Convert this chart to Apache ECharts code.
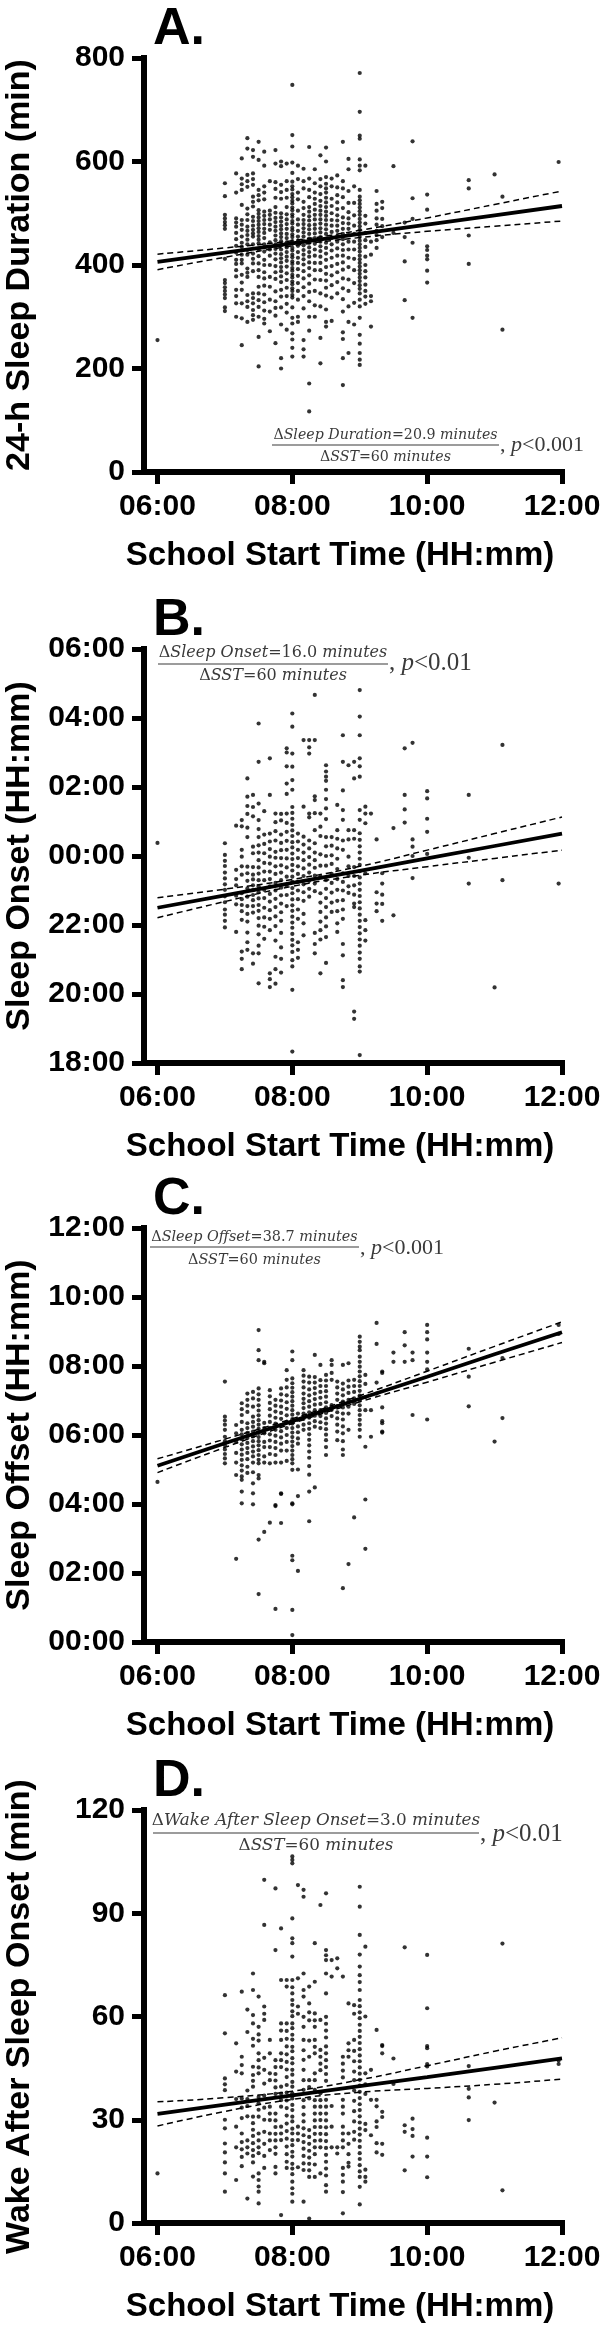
<!DOCTYPE html>
<html>
<head>
<meta charset="utf-8">
<script src="https://cdn.jsdelivr.net/npm/echarts@6/dist/echarts.min.js"></script>
<style>
  html, body { margin: 0; padding: 0; background: #fff; }
  #chart { width: 604px; height: 2331px; }
</style>
</head>
<body>
<div id="chart"></div>
<script>
// school start times that the dots sit on (minutes after midnight)
const sstCols = [360, 420, 430, 435, 440, 445, 450, 455, 460, 465, 470, 475, 480, 485, 490, 495, 500, 505, 510,
  515, 520, 525, 530, 535, 540, 545, 550, 555, 560, 570, 580, 587, 600, 637, 660, 667, 717];

// A. 24-h sleep duration (min), one list per start time column
const durationA = [
  [255],
  [558, 533, 497, 490, 483, 477, 470, 412, 371, 365, 357, 350, 343, 336, 318, 311],
  [577, 540, 490, 482, 474, 462, 450, 437, 424, 410, 402, 390, 378, 352, 340, 326, 300],
  [606, 567, 556, 545, 516, 487, 478, 468, 455, 443, 435, 420, 410, 403, 381, 366, 352, 326, 297, 245],
  [645, 625, 574, 562, 551, 509, 498, 487, 474, 466, 458, 449, 440, 429, 420, 393, 385, 377, 342, 330, 319, 290],
  [622, 609, 577, 566, 555, 532, 522, 513, 493, 485, 476, 468, 461, 455, 440, 422, 412, 403, 388, 345, 336, 326, 313, 303, 294],
  [638, 603, 545, 535, 525, 506, 499, 492, 485, 478, 471, 464, 456, 449, 442, 430, 417, 403, 390, 377, 358, 345, 332, 319, 300, 261, 204],
  [619, 592, 552, 540, 527, 503, 495, 487, 479, 470, 462, 452, 440, 426, 410, 400, 386, 374, 360, 343, 328, 312, 296, 287],
  [562, 505, 497, 488, 478, 468, 444, 430, 418, 400, 377, 358, 333, 310, 272],
  [622, 596, 560, 547, 530, 512, 501, 491, 483, 474, 466, 457, 448, 440, 431, 422, 411, 398, 386, 373, 349, 330, 317, 302, 249],
  [600, 591, 555, 541, 528, 500, 492, 484, 476, 469, 461, 454, 446, 438, 430, 421, 413, 405, 396, 388, 378, 367, 352, 339, 318, 285, 220, 200],
  [596, 562, 545, 530, 512, 498, 488, 479, 470, 460, 452, 444, 434, 425, 416, 408, 397, 384, 371, 356, 340, 325, 308, 275],
  [748, 651, 629, 598, 578, 561, 552, 546, 537, 531, 524, 519, 511, 506, 498, 493, 485, 480, 472, 467, 459, 454, 446, 441, 433, 428, 420, 415, 407, 402, 394, 389, 381, 376, 368, 363, 355, 350, 342, 337, 318, 298, 287, 268, 256, 240, 223],
  [592, 566, 540, 527, 505, 488, 478, 466, 455, 447, 437, 425, 414, 404, 392, 379, 365, 350, 333, 300, 290],
  [586, 562, 548, 522, 510, 497, 487, 479, 471, 463, 455, 446, 438, 429, 420, 411, 401, 388, 374, 357, 340, 316, 255, 237, 223],
  [628, 567, 545, 531, 512, 503, 494, 486, 477, 469, 460, 451, 443, 434, 425, 416, 405, 394, 380, 364, 348, 330, 300, 273, 171, 117],
  [585, 558, 540, 528, 518, 507, 497, 488, 478, 470, 461, 452, 441, 430, 418, 404, 390, 372, 350, 322, 300],
  [612, 566, 552, 537, 524, 514, 505, 497, 488, 480, 471, 463, 454, 445, 436, 427, 416, 404, 390, 371, 345, 320, 259, 210],
  [627, 600, 570, 557, 548, 540, 530, 521, 512, 503, 495, 487, 478, 469, 460, 451, 443, 433, 422, 410, 396, 383, 370, 356, 341, 314, 290, 281],
  [567, 552, 528, 514, 500, 487, 476, 464, 452, 440, 428, 414, 398, 380, 361, 337, 292],
  [573, 550, 535, 521, 508, 496, 486, 476, 466, 456, 445, 432, 418, 402, 386, 367, 345],
  [638, 562, 548, 531, 510, 492, 481, 470, 460, 450, 440, 429, 418, 405, 391, 374, 355, 334, 310, 270, 257, 220, 168],
  [605, 585, 543, 520, 502, 490, 480, 470, 458, 445, 430, 414, 396, 372, 350, 320, 290, 230],
  [552, 520, 496, 476, 460, 445, 430, 412, 390, 365, 327, 285],
  [771, 696, 650, 644, 604, 592, 583, 545, 532, 525, 518, 511, 504, 497, 489, 482, 475, 468, 461, 454, 447, 440, 433, 426, 418, 411, 404, 397, 390, 383, 376, 369, 361, 354, 345, 333, 320, 298, 265, 248, 230, 217, 207],
  [592, 495, 480, 462, 448, 435, 416, 400, 388, 376, 362, 350, 339, 325],
  [445, 420, 340, 330, 281],
  [543, 518, 505, 490, 478, 466, 458, 448, 433],
  [522, 510, 489, 475, 454],
  [591, 462],
  [482, 454, 407, 332],
  [639, 529, 489, 443, 298],
  [536, 507, 436, 429, 418, 411, 389, 366],
  [564, 548, 457, 402],
  [575],
  [532, 275],
  [599]
];

// B. sleep onset, clock hours (values above 24 are after midnight)
const onsetB = [
  [24.38],
  [24.37, 24.03, 23.86, 23.71, 23.52, 23.35, 23.18, 23.02, 22.83, 22.66, 22.45, 22.30, 22.12, 21.93],
  [24.88, 23.60, 23.33, 23.15, 22.85, 22.60, 21.80],
  [25.04, 24.86, 24.18, 23.98, 23.70, 23.46, 22.92, 22.75, 22.58, 22.40, 22.15, 21.23, 21.02, 20.72],
  [26.25, 25.72, 25.45, 25.22, 24.82, 24.55, 23.69, 23.50, 23.28, 23.06, 22.82, 22.55, 22.32, 22.10, 21.78, 21.50, 21.28],
  [25.77, 25.42, 25.15, 24.27, 24.08, 23.68, 23.46, 23.32, 23.15, 23.01, 22.87, 22.72, 22.55, 22.36, 21.18, 20.88],
  [27.84, 26.73, 25.52, 25.04, 24.78, 24.55, 24.31, 24.10, 23.88, 23.67, 23.49, 23.30, 23.12, 22.95, 22.77, 22.58, 22.41, 22.20, 21.98, 21.73, 21.40, 21.18, 20.31],
  [25.30, 24.62, 24.35, 24.08, 23.80, 23.55, 23.30, 23.02, 22.78, 22.50, 22.22, 21.95, 21.60],
  [26.83, 25.77, 24.65, 24.42, 24.20, 23.98, 23.78, 23.55, 23.33, 23.12, 22.90, 22.68, 22.43, 22.18, 21.85, 20.60, 20.43, 20.20],
  [25.23, 24.98, 24.72, 24.45, 24.12, 23.95, 23.70, 23.48, 23.22, 23.00, 22.76, 22.52, 22.25, 21.97, 21.55, 21.08, 20.72, 20.30],
  [25.22, 25.03, 24.62, 24.38, 24.17, 23.94, 23.73, 23.52, 23.30, 23.08, 22.86, 22.62, 22.37, 22.12, 21.77, 21.35, 21.02, 20.62],
  [27.12, 27.00, 26.60, 26.10, 25.80, 25.23, 24.96, 24.70, 24.44, 24.18, 23.93, 23.67, 23.40, 23.13, 22.87, 22.55],
  [28.13, 27.75, 26.97, 26.59, 26.20, 25.92, 25.42, 25.25, 25.08, 24.90, 24.74, 24.58, 24.40, 24.25, 24.07, 23.91, 23.74, 23.58, 23.40, 23.25, 23.07, 22.92, 22.74, 22.57, 22.41, 22.24, 22.07, 21.92, 21.74, 21.57, 21.41, 21.22, 20.98, 20.80, 20.12, 18.33],
  [24.65, 24.42, 24.18, 23.94, 23.70, 23.48, 23.25, 23.00, 22.75, 22.45, 22.18, 21.50, 21.28, 21.05],
  [27.36, 25.43, 24.56, 24.33, 24.10, 23.88, 23.64, 23.42, 23.18, 22.95, 22.70, 22.32, 22.05, 21.70],
  [27.36, 27.15, 26.97, 25.23, 25.12, 24.45, 24.22, 23.97, 23.75, 23.52, 23.28, 23.05, 22.82],
  [28.67, 27.36, 25.73, 25.62, 25.24, 24.75, 24.37, 24.10, 23.88, 23.66, 23.43, 23.20, 22.98, 21.77, 21.45, 21.18],
  [25.23, 24.85, 24.58, 24.05, 23.72, 23.40, 22.92, 22.65, 22.38, 22.10, 21.85, 21.58, 20.60],
  [26.63, 26.45, 26.30, 26.18, 25.92, 25.65, 25.38, 25.07, 24.55, 24.28, 24.00, 23.72, 23.30, 23.05, 22.78, 22.52, 22.22, 21.96, 21.65, 20.90],
  [24.55, 24.30, 24.02, 23.77, 23.48, 23.22, 22.94, 22.65, 22.38],
  [25.48, 24.75, 24.50, 24.22, 23.92, 23.62, 23.33, 23.02, 22.70, 22.40, 22.05, 21.80],
  [27.50, 26.73, 25.90, 25.33, 25.05, 24.45, 24.18, 23.50, 23.25, 23.00, 22.72, 22.45, 22.18, 21.45, 21.12, 20.40, 20.20],
  [26.63, 24.75, 24.48, 23.98, 23.70, 23.42, 23.12, 22.93],
  [26.73, 26.25, 24.75, 24.50, 23.68, 23.42, 23.15, 22.88, 22.62, 22.52, 19.49, 19.28],
  [28.81, 28.04, 27.50, 26.83, 26.60, 26.30, 25.33, 25.05, 24.66, 24.47, 24.28, 24.10, 23.92, 23.74, 23.56, 23.38, 23.20, 23.02, 22.84, 22.66, 22.48, 22.30, 22.12, 21.94, 21.76, 21.58, 21.40, 21.20, 21.02, 20.80, 20.65, 18.23],
  [25.43, 25.23, 24.95, 23.50, 22.14, 21.85, 21.55],
  [25.23],
  [24.48, 22.95, 22.62, 22.40],
  [23.50, 23.20, 22.88, 22.61, 22.12],
  [24.81, 22.28],
  [27.12, 25.77, 25.35, 24.97],
  [27.28, 24.48, 24.27, 24.00, 23.36],
  [25.88, 25.67, 25.08, 24.70, 24.06],
  [25.77, 23.95, 23.20],
  [20.19],
  [27.22, 23.30],
  [23.20]
];

// C. sleep offset, clock hours
const offsetC = [
  [4.64],
  [7.55, 6.53, 6.42, 6.30, 6.15, 5.95, 5.82, 5.70, 5.58, 5.45, 5.32, 5.18],
  [6.29, 6.05, 5.80, 5.48, 5.20, 4.84, 2.41],
  [6.92, 6.75, 6.58, 6.38, 6.15, 6.02, 5.88, 5.73, 5.58, 5.43, 5.28, 5.12, 4.97, 4.80, 4.70, 4.36, 4.02],
  [7.20, 7.02, 6.85, 6.67, 6.34, 6.20, 6.06, 5.91, 5.77, 5.62, 5.48, 5.30, 5.08, 4.90],
  [7.25, 7.06, 6.82, 6.53, 6.38, 6.24, 6.10, 5.96, 5.82, 5.67, 5.52, 5.38, 5.20, 4.92, 4.60, 4.31, 3.99],
  [9.04, 8.46, 8.17, 7.35, 7.18, 7.02, 6.86, 6.71, 6.57, 6.43, 6.30, 6.18, 6.06, 5.94, 5.82, 5.70, 5.56, 5.42, 5.28, 5.18, 4.84, 4.74, 2.97, 1.39],
  [8.12, 8.08, 6.35, 6.20, 6.05, 5.80, 5.65, 5.38, 5.20, 3.19],
  [7.30, 7.12, 6.93, 6.75, 6.56, 6.38, 6.20, 6.02, 5.84, 5.65, 5.45, 5.18, 3.46],
  [7.02, 6.85, 6.68, 6.50, 6.33, 6.15, 5.98, 5.80, 5.62, 5.42, 5.20, 3.97, 3.94, 0.96],
  [7.35, 7.18, 7.00, 6.82, 6.64, 6.47, 6.29, 6.11, 5.93, 5.75, 5.55, 5.20, 4.31, 4.29, 3.45],
  [7.88, 7.60, 7.38, 7.15, 6.95, 6.76, 6.57, 6.38, 6.20, 6.00, 5.80, 5.55, 5.25],
  [8.42, 8.17, 7.64, 7.50, 7.37, 7.24, 7.11, 6.98, 6.85, 6.72, 6.59, 6.46, 6.33, 6.20, 6.07, 5.94, 5.81, 5.68, 5.55, 5.42, 5.30, 5.18, 4.99, 4.02, 3.99, 2.50, 2.37, 0.93, 0.20],
  [6.62, 6.44, 6.25, 6.08, 5.90, 5.75, 5.00, 4.23, 2.06],
  [7.88, 7.72, 7.55, 7.38, 7.20, 7.05, 6.92, 6.78, 6.62, 6.47, 6.30, 6.15],
  [7.69, 7.52, 7.32, 7.15, 6.98, 6.82, 6.66, 6.50, 6.34, 6.18, 6.02, 5.86, 5.70, 5.52, 5.34, 5.10, 4.85, 4.36, 3.50],
  [8.32, 7.68, 7.52, 7.36, 7.20, 7.04, 6.88, 6.72, 6.56, 6.40, 6.24, 4.48],
  [8.03, 7.59, 7.42, 7.25, 7.08, 6.90, 6.72, 6.55, 6.37, 6.20],
  [7.74, 7.58, 7.42, 7.27, 7.11, 6.95, 6.80, 6.64, 6.48, 6.33, 6.17, 6.01, 5.85, 5.65, 5.42],
  [8.17, 8.03, 7.80, 7.60, 6.87, 6.73, 6.55],
  [7.55, 7.38, 7.20, 7.02, 6.84, 6.66, 6.48, 6.30, 6.10, 5.85],
  [8.03, 7.49, 7.32, 7.15, 6.97, 6.80, 6.62, 6.45, 6.25, 6.05, 5.82, 5.58, 5.42, 1.56],
  [8.08, 7.58, 7.40, 7.22, 7.02, 6.82, 6.62, 6.15, 2.26],
  [7.60, 7.42, 7.25, 7.06, 6.90, 3.61],
  [8.85, 8.70, 8.56, 8.46, 8.27, 8.12, 7.98, 7.84, 7.70, 7.56, 7.42, 7.28, 7.14, 7.00, 6.86, 6.72, 6.58, 6.44, 6.30, 6.15, 5.95],
  [7.74, 7.48, 7.10, 6.72, 5.66, 4.13, 2.70],
  [6.72, 5.95],
  [9.25, 8.64, 7.52, 7.20],
  [7.84, 7.80, 6.80, 6.40, 6.34, 6.10, 6.07],
  [8.39, 8.12],
  [8.98, 8.60, 8.12],
  [8.39, 8.17, 6.58],
  [9.19, 8.98, 8.77, 8.39, 8.12, 7.90, 6.45],
  [8.50, 7.69, 6.83],
  [5.81],
  [8.23, 6.49],
  [9.19, 8.93]
];

// D. wake after sleep onset (min)
const wasoD = [
  [14.4],
  [66.2, 55.1, 42.0, 40.3, 38.6, 30.0, 27.5, 23.1, 20.5, 17.6, 14.4, 9.1],
  [52.2, 44.0, 36.0, 28.0, 22.0, 12.5],
  [67.2, 48.3, 45.9, 43.5, 36.2, 33.5, 30.5, 26.0, 23.5, 21.4, 19.2, 16.5],
  [62.0, 55.5, 38.5, 36.0, 34.0, 31.0, 24.0, 22.0, 20.2, 7.1],
  [72.5, 67.7, 60.4, 58.0, 53.5, 51.5, 45.4, 43.0, 41.3, 39.6, 30.9, 29.0, 27.1, 25.3, 23.2, 21.2, 19.5, 17.6, 13.5],
  [65.8, 57.0, 54.8, 53.0, 49.3, 47.3, 45.2, 43.5, 36.6, 34.8, 32.9, 30.9, 26.0, 24.0, 22.0, 20.3, 14.4, 12.5, 10.6, 9.1, 5.7],
  [99.7, 86.6, 62.9, 60.8, 59.0, 48.0, 44.5, 40.5, 37.0, 33.5, 30.0, 26.5, 23.0, 19.5, 16.0],
  [53.2, 49.3, 43.5, 41.5, 33.8, 31.8, 29.9, 26.0, 24.0, 21.2],
  [97.2, 79.3, 47.3, 45.3, 43.3, 41.4, 39.4, 37.5, 31.8, 29.8, 27.9, 25.9, 24.0, 22.0, 20.1, 16.3, 14.4],
  [85.6, 70.6, 58.0, 55.9, 53.2, 49.3, 47.3, 45.3, 39.6, 37.6, 35.7, 33.8, 28.0, 26.0, 24.1, 2.3],
  [70.6, 68.7, 58.0, 55.8, 53.5, 51.3, 49.0, 46.8, 44.6, 42.4, 40.1, 37.9, 35.6, 33.4, 31.2, 28.9, 26.7, 24.5, 22.2, 20.0, 17.8, 16.0],
  [106.5, 105.5, 104.5, 88.5, 82.7, 81.3, 77.4, 70.6, 68.5, 66.7, 64.8, 63.4, 61.5, 60.1, 58.0, 56.6, 54.7, 53.3, 51.2, 49.9, 47.9, 46.4, 44.5, 43.1, 41.0, 39.6, 37.7, 36.2, 34.3, 32.8, 30.9, 29.5, 27.4, 26.0, 24.1, 22.6, 20.7, 19.3, 17.2, 15.8, 14.2, 12.0, 10.1, 8.5, 6.2],
  [98.2, 71.1, 62.9, 60.8, 28.0, 26.0, 24.1, 16.2],
  [96.8, 94.8, 72.5, 67.7, 65.8, 59.9, 57.0, 53.2, 50.2, 47.4, 44.5, 41.5, 38.7, 35.7, 33.7, 31.5, 29.5, 27.5, 25.5, 23.5, 21.6, 19.5, 17.3, 15.4, 6.2],
  [68.7, 63.8, 61.2, 58.9, 53.0, 48.3, 41.5, 39.5, 36.2, 27.0, 25.0, 23.0, 21.0, 19.0, 17.2, 15.3, 13.4, 1.3],
  [81.3, 70.1, 60.9, 58.9, 57.0, 53.2, 51.2, 49.3, 43.5, 41.5, 38.7, 35.7, 33.8, 31.8, 29.8, 27.9, 25.9, 23.9, 22.0, 20.0, 17.0, 13.4],
  [92.4, 59.0, 50.3, 48.3, 46.3, 44.4, 37.7, 35.7, 33.8, 31.8, 29.9, 27.9, 25.9, 24.0, 22.0, 14.4],
  [95.8, 79.3, 77.8, 76.4, 72.5, 66.7, 59.9, 57.9, 55.9, 53.9, 51.3, 49.3, 47.3, 45.3, 43.3, 41.3, 35.8, 33.8, 31.8, 29.8, 27.8, 25.8, 23.8, 21.8, 19.8, 17.8, 15.8, 13.8, 11.0, 9.1],
  [76.4, 71.6, 34.0, 28.0, 22.0],
  [76.9, 74.0, 22.0, 20.2],
  [71.6, 48.3, 46.3, 44.3, 42.3, 35.8, 33.8, 31.8, 28.0, 26.0, 24.0, 22.0, 16.0, 14.0, 12.0, 9.0, 2.8],
  [63.8, 52.2, 50.2, 48.3, 26.0, 23.0, 20.0, 17.5, 16.4],
  [63.3, 60.8, 53.2, 50.0, 47.0, 44.0, 41.5, 38.5, 35.5, 32.5, 29.5, 26.5, 24.2],
  [97.7, 91.9, 83.7, 78.0, 74.5, 72.0, 70.0, 67.7, 64.8, 63.0, 61.2, 59.5, 57.6, 55.8, 54.1, 52.3, 50.5, 48.7, 47.0, 45.2, 43.4, 41.6, 39.9, 38.1, 36.3, 34.5, 32.8, 31.0, 29.2, 27.4, 25.7, 23.9, 22.1, 20.3, 18.6, 16.8, 15.0, 13.4, 10.5, 5.4],
  [80.3, 60.0, 43.5, 40.3, 37.5, 28.8, 27.0, 15.5, 13.4, 12.0],
  [44.5, 35.8, 25.5],
  [56.1, 35.8, 33.9, 29.5, 27.9, 23.2, 20.5],
  [51.7, 51.4, 49.3, 32.3, 30.8, 23.0, 19.8],
  [47.8, 40.4],
  [80.1, 28.4, 26.5, 15.3],
  [30.3, 27.3, 25.3, 19.3],
  [77.9, 62.4, 51.4, 50.8, 46.2, 45.5, 24.8, 19.3, 13.3],
  [45.6, 39.0, 36.5, 29.9],
  [35.0],
  [81.2, 9.5],
  [47.2, 46.2]
];

// regression line and 95% band, read at each full hour
const fitX = [360, 420, 480, 540, 600, 660, 720];
const fitA = [406, 424, 442, 460, 478, 496, 514];
const upA = [421, 433, 447, 467, 491, 517, 543];
const loA = [391, 415, 437, 453, 465, 475, 485];
const fitB = [22.50, 22.86, 23.22, 23.57, 23.93, 24.29, 24.65];
const upB = [22.79, 23.04, 23.32, 23.70, 24.17, 24.65, 25.13];
const loB = [22.21, 22.68, 23.12, 23.44, 23.69, 23.93, 24.17];
const fitC = [5.11, 5.76, 6.40, 7.05, 7.69, 8.34, 8.98];
const upC = [5.31, 5.88, 6.47, 7.14, 7.85, 8.57, 9.28];
const loC = [4.91, 5.64, 6.33, 6.96, 7.53, 8.11, 8.68];
const fitD = [31.7, 34.4, 37.1, 39.8, 42.4, 45.1, 47.8];
const upD = [35.2, 36.4, 38.3, 41.6, 45.7, 49.9, 53.8];
const loD = [28.2, 32.4, 35.9, 38.0, 39.1, 40.3, 41.8];

const xTicks = [360, 480, 600, 720];

const pad = n => String(n).padStart(2, '0');
const clock = m => pad(Math.floor(m / 60)) + ':' + pad(m % 60);
const hourLabel = h => pad(((h % 24) + 24) % 24) + ':00';

function toPoints(cols) {
  const pts = [];
  cols.forEach((vals, i) => vals.forEach(v => pts.push([sstCols[i], v])));
  return pts;
}
const pair = ys => fitX.map((x, i) => [x, ys[i]]);

const SANS = '"Liberation Sans", Arial, sans-serif';
const MATH = '"DejaVu Serif", serif';
const INK = '#3a3a3a';

const panels = [
  { letter: 'A.', top: 58, height: 414, yName: '24-h Sleep Duration (min)',
    min: 0, max: 800, step: 200, fmt: v => String(v),
    dots: durationA, fit: fitA, up: upA, lo: loA,
    note: { what: 'Sleep Duration', val: '20.9', p: '0.001', size: 14.2, cx: 385.5, numY: 435, barY: 445, denY: 457,
            x1: 272, x2: 499, tailSize: 22, tailY: 445 } },
  { letter: 'B.', top: 649, height: 414, yName: 'Sleep Onset (HH:mm)',
    min: 18, max: 30, step: 2, fmt: hourLabel,
    dots: onsetB, fit: fitB, up: upB, lo: loB,
    note: { what: 'Sleep Onset', val: '16.0', p: '0.01', size: 16, cx: 273, numY: 653, barY: 664, denY: 676,
            x1: 158, x2: 388, tailSize: 25, tailY: 663 } },
  { letter: 'C.', top: 1228, height: 414, yName: 'Sleep Offset (HH:mm)',
    min: 0, max: 12, step: 2, fmt: hourLabel,
    dots: offsetC, fit: fitC, up: upC, lo: loC,
    note: { what: 'Sleep Offset', val: '38.7', p: '0.001', size: 14.4, cx: 254.5, numY: 1237, barY: 1247, denY: 1260,
            x1: 150, x2: 359, tailSize: 22, tailY: 1248 } },
  { letter: 'D.', top: 1810, height: 413, yName: 'Wake After Sleep Onset (min)',
    min: 0, max: 120, step: 30, fmt: v => String(v),
    dots: wasoD, fit: fitD, up: upD, lo: loD,
    note: { what: 'Wake After Sleep Onset', val: '3.0', p: '0.01', size: 16.8, cx: 316, numY: 1821, barY: 1833, denY: 1846,
            x1: 153, x2: 479, tailSize: 25, tailY: 1834 } }
];

const grid = [], xAxis = [], yAxis = [], series = [], graphic = [];

const mathRich = size => ({
  i: { fontFamily: MATH, fontStyle: 'italic', fontSize: size, fill: INK },
  u: { fontFamily: MATH, fontSize: size, fill: INK }
});

panels.forEach((p, k) => {
  grid.push({ left: 144, width: 418, top: p.top, height: p.height, outerBoundsMode: 'none' });

  xAxis.push({
    gridIndex: k, type: 'value', min: 348, max: 720,
    name: 'School Start Time (HH:mm)', nameLocation: 'middle', nameGap: 67,
    nameTextStyle: { fontFamily: SANS, fontWeight: 'bold', fontSize: 33, color: '#000', padding: [0, 26, 0, 0] },
    axisLine: { show: true, onZero: false, lineStyle: { color: '#000', width: 6, cap: 'square' } },
    axisTick: { show: true, length: 12, customValues: xTicks, lineStyle: { color: '#000', width: 5 } },
    axisLabel: { customValues: xTicks, formatter: clock, margin: 20,
                 fontFamily: SANS, fontWeight: 'bold', fontSize: 30, color: '#000' },
    splitLine: { show: false }
  });

  yAxis.push({
    gridIndex: k, type: 'value', min: p.min, max: p.max, interval: p.step,
    name: p.yName, nameLocation: 'middle', nameGap: 107,
    nameTextStyle: { fontFamily: SANS, fontWeight: 'bold', fontSize: 34, color: '#000' },
    axisLine: { show: true, onZero: false, lineStyle: { color: '#000', width: 6, cap: 'square' } },
    axisTick: { show: true, length: 12, lineStyle: { color: '#000', width: 5 } },
    axisLabel: { formatter: p.fmt, margin: 19, fontFamily: SANS, fontWeight: 'bold', fontSize: 30, color: '#000' },
    splitLine: { show: false }
  });

  series.push({
    type: 'scatter', xAxisIndex: k, yAxisIndex: k, data: toPoints(p.dots),
    symbol: 'circle', symbolSize: 4.2, itemStyle: { color: '#000' }, silent: true, z: 2
  });
  [[p.up, 'dashed'], [p.lo, 'dashed'], [p.fit, 'solid']].forEach(([ys, kind]) => {
    series.push({
      type: 'line', xAxisIndex: k, yAxisIndex: k, data: pair(ys), smooth: kind === 'dashed',
      showSymbol: false, silent: true, z: 3,
      lineStyle: kind === 'solid'
        ? { color: '#000', width: 3.8 }
        : { color: '#000', width: 1.5, type: [6, 4] }
    });
  });

  // panel letter
  graphic.push({ type: 'text', style: { text: p.letter, x: 153, y: p.top - 28, font: 'bold 52px ' + SANS,
    fill: '#000', verticalAlign: 'middle', textVerticalAlign: 'middle' } });

  // slope annotation as a fraction
  const n = p.note;
  graphic.push({ type: 'text', style: {
    text: '{u|Δ}{i|' + n.what + '}{u|=' + n.val + ' }{i|minutes}', rich: mathRich(n.size),
    x: n.cx, y: n.numY, align: 'center', textAlign: 'center', verticalAlign: 'middle', textVerticalAlign: 'middle' } });
  graphic.push({ type: 'line', shape: { x1: n.x1, y1: n.barY, x2: n.x2, y2: n.barY },
    style: { stroke: INK, lineWidth: 1.2 } });
  graphic.push({ type: 'text', style: {
    text: '{u|Δ}{i|SST}{u|=60 }{i|minutes}', rich: mathRich(n.size),
    x: n.cx, y: n.denY, align: 'center', textAlign: 'center', verticalAlign: 'middle', textVerticalAlign: 'middle' } });
  graphic.push({ type: 'text', style: {
    text: '{u|, }{i|p}{u|<' + n.p + '}',
    rich: {
      i: { fontFamily: '"Liberation Serif", serif', fontStyle: 'italic', fontSize: n.tailSize, fill: INK },
      u: { fontFamily: '"Liberation Serif", serif', fontSize: n.tailSize, fill: INK }
    },
    x: n.x2 + 1, y: n.tailY, align: 'left', textAlign: 'left', verticalAlign: 'middle', textVerticalAlign: 'middle' } });
});

const chart = echarts.init(document.getElementById('chart'));
chart.setOption({
  backgroundColor: '#fff',
  animation: false,
  grid, xAxis, yAxis, series, graphic
});
window.addEventListener('resize', () => chart.resize());
</script>
</body>
</html>
